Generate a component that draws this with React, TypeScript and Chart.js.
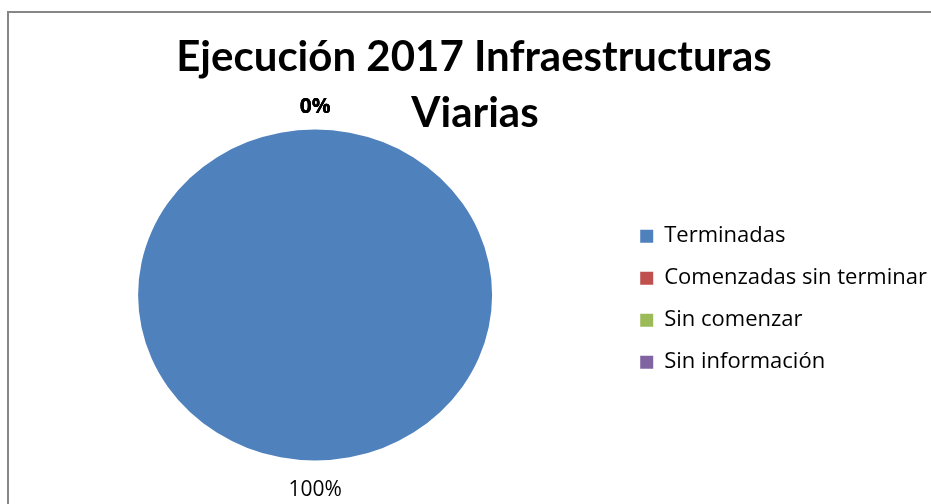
import React, { useEffect, useRef } from "react";
import { Chart, registerables } from "chart.js";

Chart.register(...registerables);

const TITLE_LINES = ["Ejecución 2017 Infraestructuras", "Viarias"];
const CATEGORIES = ["Terminadas", "Comenzadas sin terminar", "Sin comenzar", "Sin información"];
const VALUES = [100, 0, 0, 0];
const COLORS = ["#4F81BD", "#C0504D", "#9BBB59", "#8064A2"];

const W = 931;
const H = 504;
const Y_SCALE = 331 / 354; // the reference pie is slightly squashed vertically

const framePlugin = {
  id: "frame",
  beforeDraw(chart: any) {
    const ctx = chart.ctx;
    ctx.save();
    ctx.fillStyle = "#ffffff";
    ctx.fillRect(0, 0, chart.width, chart.height);
    ctx.strokeStyle = "#868686";
    ctx.lineWidth = 2;
    ctx.strokeRect(8, 12, chart.width + 20, chart.height + 20);
    ctx.restore();
  },
};

const squashPlugin = {
  id: "squash",
  beforeDatasetsDraw(chart: any) {
    const ctx = chart.ctx;
    const a = chart.chartArea;
    const cy = (a.top + a.bottom) / 2;
    ctx.save();
    ctx.translate(0, cy);
    ctx.scale(1, Y_SCALE);
    ctx.translate(0, -cy);
  },
  afterDatasetsDraw(chart: any) {
    chart.ctx.restore();
  },
};

const titlePlugin = {
  id: "customTitle",
  afterDraw(chart: any) {
    const ctx = chart.ctx;
    ctx.save();
    ctx.fillStyle = "#000000";
    ctx.font = "bold 42px Lato";
    ctx.textAlign = "center";
    ctx.textBaseline = "alphabetic";
    ctx.fillText(TITLE_LINES[0], 474, 71);
    ctx.fillText(TITLE_LINES[1], 475, 127);
    ctx.restore();
  },
};

const labelPlugin = {
  id: "sliceLabels",
  afterDraw(chart: any) {
    const ctx = chart.ctx;
    const meta = chart.getDatasetMeta(0);
    const data = chart.data.datasets[0].data as number[];
    const total = data.reduce((a, b) => a + b, 0);
    ctx.save();
    ctx.fillStyle = "#000000";
    ctx.textAlign = "center";
    ctx.textBaseline = "middle";
    meta.data.forEach((arc: any, i: number) => {
      const p = arc.getProps(["x", "y", "startAngle", "endAngle", "outerRadius"], true);
      const mid = (p.startAngle + p.endAngle) / 2;
      const pct = Math.round((data[i] / total) * 100);
      const rx = p.outerRadius + 26;
      const ry = p.outerRadius * Y_SCALE + 26;
      const tx = p.x + Math.cos(mid) * rx;
      const ty = p.y + Math.sin(mid) * ry + 4;
      ctx.font = pct === 0 ? "bold 21px 'Open Sans'" : "21px 'Open Sans'";
      ctx.fillText(pct + "%", tx, ty);
    });
    ctx.restore();
  },
};

export default function App() {
  const ref = useRef<HTMLCanvasElement | null>(null);
  useEffect(() => {
    if (!ref.current) return;
    const chart = new Chart(ref.current, {
      type: "pie",
      data: {
        labels: CATEGORIES,
        datasets: [
          {
            data: VALUES,
            backgroundColor: COLORS,
            borderWidth: 0,
          },
        ],
      },
      options: {
        responsive: false,
        animation: false,
        devicePixelRatio: 1,
        layout: { padding: { top: 118, bottom: 32, left: 10, right: -6 } },
        plugins: {
          title: { display: false },
          tooltip: { enabled: false },
          legend: {
            display: true,
            position: "right",
            align: "center",
            title: { display: true, text: "", padding: 3, font: { size: 2 } },
            labels: {
              boxWidth: 13,
              boxHeight: 13,
              padding: 20,
              color: "#000000",
              font: { family: "'Open Sans'", size: 22 },
            },
          },
        },
      },
      plugins: [framePlugin, squashPlugin, labelPlugin, titlePlugin],
    });
    return () => chart.destroy();
  }, []);
  return (
    <div style={{ position: "fixed", left: 0, top: 0, width: W, height: H, background: "#fff" }}>
      <canvas ref={ref} width={W} height={H} style={{ width: W, height: H, display: "block" }} />
    </div>
  );
}
